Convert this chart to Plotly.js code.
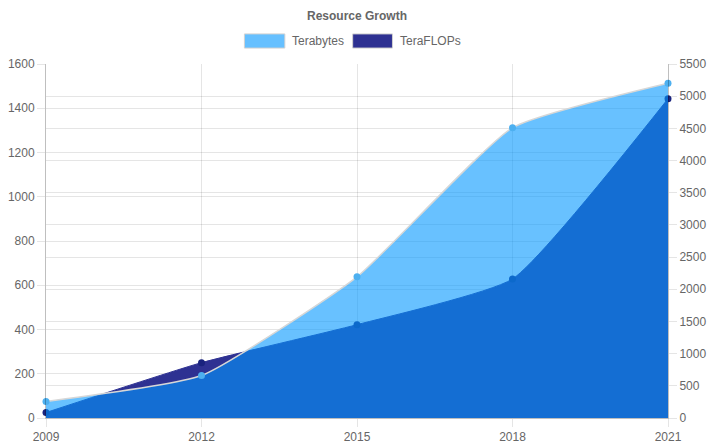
<!DOCTYPE html>
<html>
<head>
<meta charset="utf-8">
<script src="https://cdn.plot.ly/plotly-3.0.1.min.js"></script>
<style>
  html, body { margin: 0; padding: 0; background: #fff; }
  #chart { width: 714px; height: 446px; }
</style>
</head>
<body>
<div id="chart"></div>
<script>
// Data
const years = ["2009", "2012", "2015", "2018", "2021"];
const terabytes = [75, 192, 638, 1312, 1513];   // left axis
const teraflops = [85, 860, 1450, 2160, 4960];  // right axis

const FONT = "Liberation Sans, Arial, Helvetica, sans-serif";
const GRID = "rgba(0,0,0,0.1)";

// TeraFLOPs on the plain y axis (right side), Terabytes on y2 (left side)
// so the light Terabytes fill is painted over the navy one
const flopsTrace = {
    x: years,
    y: teraflops,
    yaxis: "y",
    type: "scatter",
    mode: "lines+markers",
    fill: "tozeroy",
    fillcolor: "rgb(46,49,146)",
    line: { color: "rgb(46,49,146)", width: 1, shape: "spline", smoothing: 0.45 },
    marker: { color: "rgb(26,35,126)", size: 7 },
    cliponaxis: false,
    hoverinfo: "skip",
};

const bytesTrace = {
    x: years,
    y: terabytes,
    yaxis: "y2",
    type: "scatter",
    mode: "lines+markers",
    fill: "tozeroy",
    fillcolor: "rgba(3,151,255,0.6)",
    line: { color: "rgba(215,215,215,1)", width: 1.5, shape: "spline", smoothing: 0.45 },
    marker: { color: "rgb(77,176,240)", size: 7 },
    cliponaxis: false,
    hoverinfo: "skip",
};

const tickFont = { family: FONT, size: 12, color: "#666" };

const layout = {
    width: 714,
    height: 446,
    margin: { l: 46, r: 46, t: 64, b: 28 },
    paper_bgcolor: "#fff",
    plot_bgcolor: "#fff",
    showlegend: false,
    title: {
        text: "<b>Resource Growth</b>",
        font: { family: FONT, size: 12, color: "#666" },
        x: 0.5,
        xanchor: "center",
        y: 0.965,
        yanchor: "middle",
    },
    xaxis: {
        type: "category",
        range: [0, 4],
        showgrid: true,
        gridcolor: GRID,
        ticks: "outside",
        ticklen: 8,
        tickcolor: GRID,
        tickfont: tickFont,
        showline: true,
        linecolor: "rgba(0,0,0,0.25)",
        zeroline: false,
    },
    yaxis: {
        side: "right",
        range: [0, 5500],
        dtick: 500,
        showgrid: true,
        gridcolor: GRID,
        ticks: "outside",
        ticklen: 8,
        tickcolor: GRID,
        tickfont: tickFont,
        showline: true,
        linecolor: "rgba(0,0,0,0.25)",
        zeroline: false,
    },
    yaxis2: {
        side: "left",
        overlaying: "y",
        range: [0, 1600],
        dtick: 200,
        showgrid: true,
        gridcolor: GRID,
        ticks: "outside",
        ticklen: 8,
        tickcolor: GRID,
        tickfont: tickFont,
        showline: true,
        linecolor: "rgba(0,0,0,0.25)",
        zeroline: false,
    },
    // legend drawn by hand to match the boxed style
    shapes: [
        { type: "rect", xref: "paper", yref: "paper", x0: 0.319, x1: 0.384, y0: 1.045, y1: 1.085,
          fillcolor: "rgba(102,192,255,1)", line: { color: "rgba(210,210,210,1)", width: 1 } },
        { type: "rect", xref: "paper", yref: "paper", x0: 0.493, x1: 0.557, y0: 1.045, y1: 1.085,
          fillcolor: "rgb(46,49,146)", line: { color: "rgba(210,210,210,1)", width: 1 } },
    ],
    annotations: [
        { xref: "paper", yref: "paper", x: 0.393, y: 1.065, xanchor: "left", yanchor: "middle",
          text: "Terabytes", showarrow: false, font: { family: FONT, size: 12, color: "#666" } },
        { xref: "paper", yref: "paper", x: 0.566, y: 1.065, xanchor: "left", yanchor: "middle",
          text: "TeraFLOPs", showarrow: false, font: { family: FONT, size: 12, color: "#666" } },
    ],
};

Plotly.newPlot("chart", [flopsTrace, bytesTrace], layout, { displayModeBar: false, staticPlot: true });
</script>
</body>
</html>
